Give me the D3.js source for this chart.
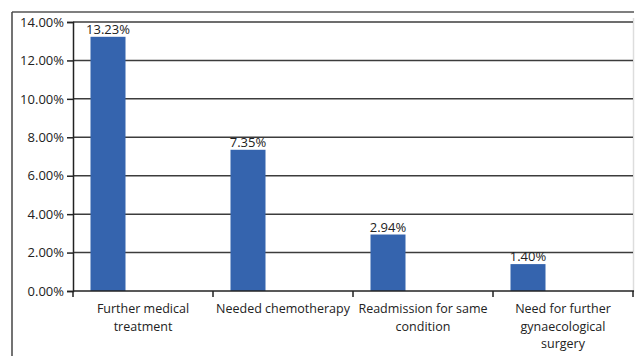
<!DOCTYPE html>
<html>
<head>
<meta charset="utf-8">
<script src="https://cdn.jsdelivr.net/npm/d3@7"></script>
<style>
  html, body { margin: 0; padding: 0; background: #fff; }
  svg { display: block; }
  text { font-family: "Open Sans", "Liberation Sans", sans-serif; fill: #222; }
</style>
</head>
<body>
<svg id="chart" width="635" height="356"></svg>
<script>
// Outcomes after surgery, as a share of patients
const categories = [
  ["Further medical", "treatment"],
  ["Needed chemotherapy"],
  ["Readmission for same", "condition"],
  ["Need for further", "gynaecological", "surgery"]
];
const values = [13.23, 7.35, 2.94, 1.40];
const yTicks = [0, 2, 4, 6, 8, 10, 12, 14];

const svg = d3.select("#chart");
const W = 635, H = 356;
const plotLeft = 73, plotRight = 633, plotTop = 22, plotBottom = 291;

// outer frame (top and left edges visible, right edge faint)
svg.append("line").attr("x1", 12).attr("x2", 634).attr("y1", 12).attr("y2", 12)
  .attr("stroke", "#555").attr("stroke-width", 1.5);
svg.append("line").attr("x1", 12).attr("x2", 12).attr("y1", 12).attr("y2", H)
  .attr("stroke", "#444").attr("stroke-width", 1.5);
svg.append("line").attr("x1", 633.5).attr("x2", 633.5).attr("y1", 18).attr("y2", 292)
  .attr("stroke", "#ddd").attr("stroke-width", 1.5);

const x = d3.scaleBand().domain(d3.range(values.length)).range([plotLeft, plotRight]).padding(0);
const y = d3.scaleLinear().domain([0, 14]).range([plotBottom, plotTop]);

// horizontal gridlines
svg.append("g").selectAll("line").data(yTicks.filter(t => t > 0)).join("line")
  .attr("x1", plotLeft).attr("x2", plotRight)
  .attr("y1", d => y(d)).attr("y2", d => y(d))
  .attr("stroke", "#3c3c3c").attr("stroke-width", 1.5);

// y axis
const yAxis = d3.axisLeft(y).tickValues(yTicks).tickSize(6).tickPadding(3)
  .tickFormat(d => d.toFixed(2) + "%");
const gy = svg.append("g").attr("transform", `translate(${plotLeft},0)`).call(yAxis);
gy.select(".domain").attr("stroke", "#222").attr("stroke-width", 1.5);
gy.selectAll(".tick line").attr("stroke", "#222").attr("stroke-width", 1.5);
gy.selectAll(".tick text").attr("font-size", 13).attr("font-family", "'Open Sans', sans-serif").attr("fill", "#222");

// bars: each occupies the first quarter-slot of its category band
const bw = x.bandwidth();
const barW = bw / 4;
const barOff = bw / 8;
svg.append("g").selectAll("rect").data(values).join("rect")
  .attr("x", (d, i) => x(i) + barOff)
  .attr("width", barW)
  .attr("y", d => y(d))
  .attr("height", d => y(0) - y(d))
  .attr("fill", "#3564ae");

// value labels
svg.append("g").selectAll("text").data(values).join("text")
  .attr("x", (d, i) => x(i) + barOff + barW / 2)
  .attr("y", d => y(d) - 3)
  .attr("text-anchor", "middle")
  .attr("font-size", 13)
  .text(d => d.toFixed(2) + "%");

// x axis line and category ticks
svg.append("line").attr("x1", plotLeft).attr("x2", plotRight + 1).attr("y1", plotBottom).attr("y2", plotBottom)
  .attr("stroke", "#222").attr("stroke-width", 1.5);
svg.append("g").selectAll("line").data(d3.range(values.length + 1)).join("line")
  .attr("x1", i => plotLeft + i * bw).attr("x2", i => plotLeft + i * bw)
  .attr("y1", plotBottom).attr("y2", plotBottom + 6)
  .attr("stroke", "#222").attr("stroke-width", 1.5);

// category labels
const cat = svg.append("g").selectAll("text").data(categories).join("text")
  .attr("text-anchor", "middle")
  .attr("font-size", 12.5);
cat.selectAll("tspan").data((d, i) => d.map(line => ({ line, i }))).join("tspan")
  .attr("x", d => x(d.i) + bw / 2)
  .attr("y", (d, j) => 313 + j * 17.5)
  .text(d => d.line);
</script>
</body>
</html>
